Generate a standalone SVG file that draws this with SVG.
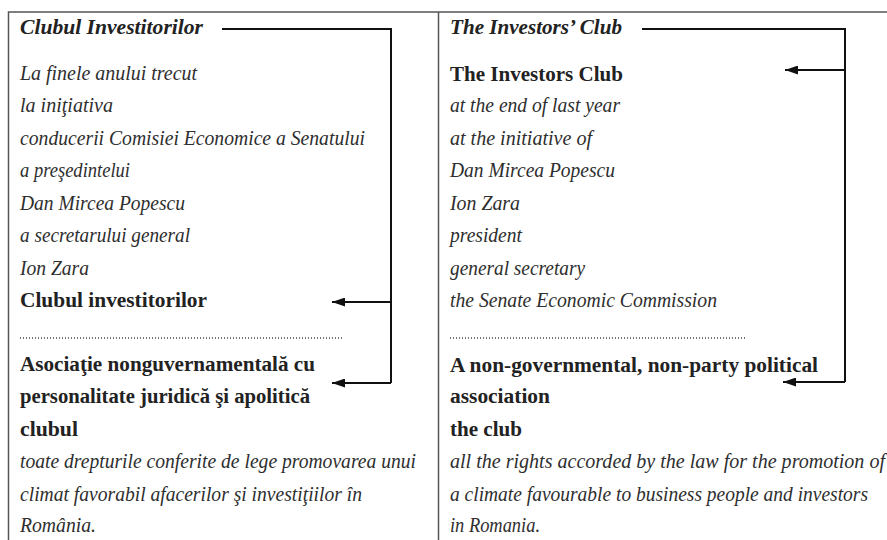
<svg xmlns="http://www.w3.org/2000/svg" width="887" height="540" viewBox="0 0 887 540">
  <style>
    text { font-family: "Liberation Serif", "DejaVu Serif", serif; font-size: 20px; fill: #222; }
    .it { font-style: italic; fill: #2e2e2e; }
    .bi { font-style: italic; font-weight: bold; }
    .b { font-weight: bold; }
    .frame { stroke: #555; stroke-width: 1.5; fill: none; }
    .dots { stroke: #444; stroke-width: 1.3; stroke-dasharray: 1 2; fill: none; }
    .conn { stroke: #111; stroke-width: 2; fill: none; }
  </style>
  <defs>
    <marker id="arrow" viewBox="0 0 13 9" refX="13" refY="4.5" markerWidth="13" markerHeight="9" markerUnits="userSpaceOnUse" orient="auto">
      <path d="M0,0 L13,4.5 L0,9 z" fill="#111"/>
    </marker>
  </defs>

  <rect width="887" height="540" fill="#fff"/>

  <!-- table frame -->
  <g id="frame">
    <path class="frame" d="M8.5,540 V12 H887"/>
    <path class="frame" d="M438.5,12 V540"/>
  </g>

  <!-- Romanian column -->
  <g id="ro-title"><text class="bi" x="20" y="34" textLength="183" lengthAdjust="spacingAndGlyphs">Clubul Investitorilor</text></g>
  <g id="ro-source">
    <text class="it" x="20" y="80" textLength="177" lengthAdjust="spacingAndGlyphs">La finele anului trecut</text>
    <text class="it" x="20" y="112" textLength="93" lengthAdjust="spacingAndGlyphs">la iniţiativa</text>
    <text class="it" x="20" y="145" textLength="345" lengthAdjust="spacingAndGlyphs">conducerii Comisiei Economice a Senatului</text>
    <text class="it" x="20" y="177" textLength="110" lengthAdjust="spacingAndGlyphs">a preşedintelui</text>
    <text class="it" x="20" y="210" textLength="165" lengthAdjust="spacingAndGlyphs">Dan Mircea Popescu</text>
    <text class="it" x="20" y="242" textLength="170" lengthAdjust="spacingAndGlyphs">a secretarului general</text>
    <text class="it" x="20" y="275" textLength="69" lengthAdjust="spacingAndGlyphs">Ion Zara</text>
  </g>
  <g id="ro-term1"><text class="b" x="20" y="307" textLength="187" lengthAdjust="spacingAndGlyphs">Clubul investitorilor</text></g>
  <g id="ro-sep"><line class="dots" x1="20" y1="338" x2="342" y2="338"/></g>
  <g id="ro-term2">
    <text class="b" x="20" y="371" textLength="295" lengthAdjust="spacingAndGlyphs">Asociaţie nonguvernamentală cu</text>
    <text class="b" x="20" y="403" textLength="290" lengthAdjust="spacingAndGlyphs">personalitate juridică şi apolitică</text>
  </g>
  <g id="ro-term3"><text class="b" x="20" y="436" textLength="58" lengthAdjust="spacingAndGlyphs">clubul</text></g>
  <g id="ro-rest">
    <text class="it" x="20" y="468" textLength="396" lengthAdjust="spacingAndGlyphs">toate drepturile conferite de lege promovarea unui</text>
    <text class="it" x="20" y="501" textLength="342" lengthAdjust="spacingAndGlyphs">climat favorabil afacerilor şi investiţiilor în</text>
    <text class="it" x="20" y="532" textLength="76" lengthAdjust="spacingAndGlyphs">România.</text>
  </g>

  <!-- English column -->
  <g id="en-title"><text class="bi" x="450" y="34" textLength="172" lengthAdjust="spacingAndGlyphs">The Investors’ Club</text></g>
  <g id="en-term1"><text class="b" x="450" y="81" textLength="173" lengthAdjust="spacingAndGlyphs">The Investors Club</text></g>
  <g id="en-source">
    <text class="it" x="450" y="112" textLength="170" lengthAdjust="spacingAndGlyphs">at the end of last year</text>
    <text class="it" x="450" y="145" textLength="142" lengthAdjust="spacingAndGlyphs">at the initiative of</text>
    <text class="it" x="450" y="177" textLength="165" lengthAdjust="spacingAndGlyphs">Dan Mircea Popescu</text>
    <text class="it" x="450" y="210" textLength="70" lengthAdjust="spacingAndGlyphs">Ion Zara</text>
    <text class="it" x="450" y="242" textLength="72" lengthAdjust="spacingAndGlyphs">president</text>
    <text class="it" x="450" y="275" textLength="135" lengthAdjust="spacingAndGlyphs">general secretary</text>
    <text class="it" x="450" y="307" textLength="267" lengthAdjust="spacingAndGlyphs">the Senate Economic Commission</text>
  </g>
  <g id="en-sep"><line class="dots" x1="450" y1="338" x2="747" y2="338"/></g>
  <g id="en-term2">
    <text class="b" x="450" y="372" textLength="368" lengthAdjust="spacingAndGlyphs">A non-governmental, non-party political</text>
    <text class="b" x="450" y="403" textLength="100" lengthAdjust="spacingAndGlyphs">association</text>
  </g>
  <g id="en-term3"><text class="b" x="450" y="436" textLength="72" lengthAdjust="spacingAndGlyphs">the club</text></g>
  <g id="en-rest">
    <text class="it" x="450" y="468" textLength="435" lengthAdjust="spacingAndGlyphs">all the rights accorded by the law for the promotion of</text>
    <text class="it" x="450" y="501" textLength="418" lengthAdjust="spacingAndGlyphs">a climate favourable to business people and investors</text>
    <text class="it" x="450" y="532" textLength="90" lengthAdjust="spacingAndGlyphs">in Romania.</text>
  </g>

  <!-- connectors: title bracket with arrows to each term -->
  <g id="connectors">
    <path class="conn" d="M222,29 H391 V383"/>
    <line class="conn" x1="391" y1="302" x2="332" y2="302" marker-end="url(#arrow)"/>
    <line class="conn" x1="391" y1="383" x2="332" y2="383" marker-end="url(#arrow)"/>
    <path class="conn" d="M642,29 H845 V382"/>
    <line class="conn" x1="845" y1="70" x2="785" y2="70" marker-end="url(#arrow)"/>
    <line class="conn" x1="845" y1="382" x2="783" y2="382" marker-end="url(#arrow)"/>
  </g>
</svg>
